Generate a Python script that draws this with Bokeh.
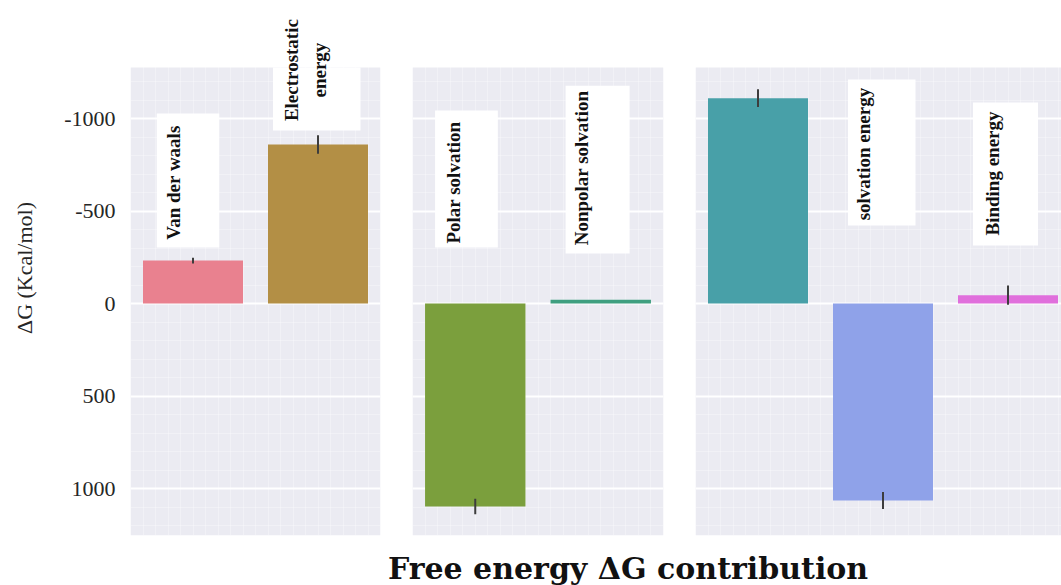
from bokeh.plotting import figure
from bokeh.layouts import column, row
from bokeh.models import Range1d, FixedTicker, Label, ColumnDataSource
from bokeh.embed import file_html
from bokeh.resources import INLINE

# MM/PBSA free energy terms (kcal/mol), mean and error per term
gas_names = ["Van der waals", "Electrostatic energy"]
gas_values = [-232, -860]
gas_errors = [15, 50]
gas_colors = ["#E9818F", "#B38F45"]
gas_labels = ["Van der waals", "Electrostatic\nenergy"]

solv_names = ["Polar solvation", "Nonpolar solvation"]
solv_values = [1097, -20]
solv_errors = [42, 0]
solv_colors = ["#7B9F3D", "#3F9F80"]
solv_labels = ["Polar solvation", "Nonpolar solvation"]

total_names = ["Gas phase energy", "solvation energy", "Binding energy"]
total_values = [-1110, 1065, -45]
total_errors = [48, 46, 52]
total_colors = ["#48A0A8", "#8FA2E9", "#E06FDC"]
total_labels = [None, "solvation energy", "Binding energy"]

tick_values = [-1000, -500, 0, 500, 1000]
tick_labels = ["-1000", "-500", "0", "500", "1000"]

# white label boxes: (slot, x0, x1, y_top, y_bottom, text_x, text_y) in data units
gas_boxes = [(0, 0.21, 0.71, -1027, -303, 0.345, -654),
             (1, 0.14, 0.84, -1300, -935, 0.40, -1262)]
solv_boxes = [(0, 0.18, 0.68, -1043, -303, 0.33, -654),
              (1, 0.22, 0.73, -1178, -270, 0.35, -733)]
total_boxes = [None,
               (1, 0.22, 0.76, -1211, -422, 0.345, -808),
               (2, 0.22, 0.74, -1087, -314, 0.375, -703)]

# shaded panel spans Y_BOTTOM..Y_TOP; the plot area continues up to Y_CANVAS_TOP
# so that labels may rise above the shaded panel
Y_BOTTOM, Y_TOP = 1254, -1276
Y_CANVAS_TOP = Y_TOP - 67 * (Y_BOTTOM - Y_TOP) / 468
FONT = "Liberation Serif"
PANEL_BG = "#EBEBF2"


def make_panel(values, errors, colors, labels, boxes, width, slots, left, right, axis):
    p = figure(width=width, height=545,
               x_range=Range1d(0, slots), y_range=Range1d(Y_BOTTOM, Y_CANVAS_TOP),
               x_axis_location=None, y_axis_location="left" if axis else None,
               output_backend="svg", toolbar_location=None,
               min_border_left=left, min_border_right=right,
               min_border_top=0, min_border_bottom=10)
    p.background_fill_color = "white"
    p.border_fill_color = "white"
    p.outline_line_color = None

    # shaded panel drawn beneath the grid
    p.quad(left=0, right=slots, top=Y_TOP, bottom=Y_BOTTOM,
           fill_color=PANEL_BG, line_color=None, level="image")

    p.ygrid.ticker = FixedTicker(ticks=tick_values,
                                 minor_ticks=list(range(-1200, 1300, 100)))
    p.ygrid.grid_line_color = "white"
    p.ygrid.grid_line_width = 2
    p.ygrid.minor_grid_line_color = "white"
    p.ygrid.minor_grid_line_alpha = 0.3
    p.xgrid.ticker = FixedTicker(ticks=[], minor_ticks=[k / 10 for k in range(31)])
    p.xgrid.minor_grid_line_color = "white"
    p.xgrid.minor_grid_line_alpha = 0.3

    xs = [i + 0.5 for i in range(len(values))]
    src = ColumnDataSource(dict(
        x=xs, top=values, color=colors,
        lo=[v - e for v, e in zip(values, errors)],
        hi=[v + e for v, e in zip(values, errors)]))
    p.vbar(x="x", top="top", bottom=0, width=0.8, fill_color="color",
           line_color=None, source=src)
    p.segment(x0="x", y0="lo", x1="x", y1="hi", line_color="#3d3d3d",
              line_width=2, source=src)

    for text, box in zip(labels, boxes):
        if text is None:
            continue
        slot, x0, x1, yt, yb, tx, ty = box
        p.quad(left=slot + x0, right=slot + x1, top=max(yt, Y_TOP), bottom=yb,
               fill_color="white", line_color=None)
        p.add_layout(Label(x=slot + tx, y=ty, text=text, angle=1.5708,
                           text_align="center", text_baseline="middle",
                           text_font=FONT, text_font_style="bold",
                           text_font_size="19px", text_color="#111111",
                           text_line_height=1.3))

    if axis:
        ax = p.yaxis[0]
        ax.ticker = FixedTicker(ticks=tick_values)
        ax.major_label_overrides = dict(zip(tick_values, tick_labels))
        ax.axis_line_color = None
        ax.major_tick_line_color = None
        ax.minor_tick_line_color = None
        ax.major_label_standoff = 9
        ax.major_label_text_font = FONT
        ax.major_label_text_font_size = "22px"
        ax.major_label_text_color = "#262626"
        ax.axis_label = "ΔG (Kcal/mol)"
        ax.axis_label_text_font = FONT
        ax.axis_label_text_font_style = "normal"
        ax.axis_label_text_font_size = "22px"
        ax.axis_label_text_color = "#262626"
        ax.axis_label_standoff = 24
    return p


p1 = make_panel(gas_values, gas_errors, gas_colors, gas_labels, gas_boxes,
                396, 2, 130, 16, True)
p2 = make_panel(solv_values, solv_errors, solv_colors, solv_labels, solv_boxes,
                283, 2, 16, 16, False)
p3 = make_panel(total_values, total_errors, total_colors, total_labels, total_boxes,
                382, 2.928, 16, 0, False)

# shared x-axis title beneath the three panels
pt = figure(width=1061, height=40, x_range=Range1d(0, 1061), y_range=Range1d(0, 40),
            x_axis_location=None, y_axis_location=None, min_border=0,
            output_backend="svg", toolbar_location=None)
pt.outline_line_color = None
pt.grid.visible = False
pt.add_layout(Label(x=627.5, y=17, text="Free energy ΔG contribution",
                    text_align="center", text_baseline="alphabetic",
                    text_font="DejaVu Serif", text_font_style="bold",
                    text_font_size="30px", text_color="#111111"))

layout = column(row(p1, p2, p3), pt)
open("out.html", "w").write(file_html(layout, INLINE))
